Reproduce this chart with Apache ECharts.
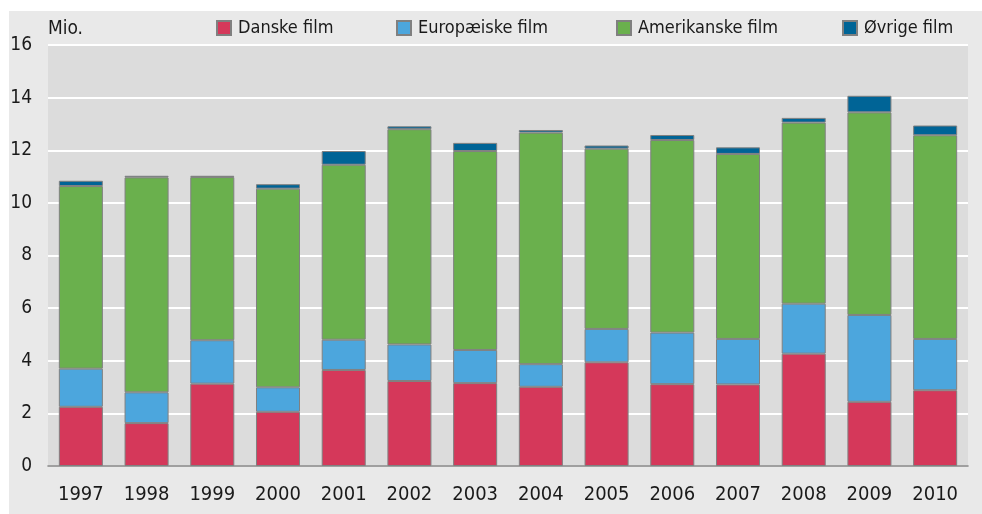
<!DOCTYPE html>
<html>
<head>
<meta charset="utf-8">
<script src="https://cdn.jsdelivr.net/npm/echarts@6/dist/echarts.min.js"></script>
<style>
  html, body { margin: 0; padding: 0; background: #fff; }
  #chart { width: 982px; height: 514px; }
</style>
</head>
<body>
<div id="chart"></div>
<script>
// data (mio.)
const years = ["1997", "1998", "1999", "2000", "2001", "2002", "2003", "2004", "2005", "2006", "2007", "2008", "2009", "2010"];
const danske = [2.25, 1.63, 3.13, 2.06, 3.65, 3.23, 3.15, 3.01, 3.94, 3.11, 3.10, 4.27, 2.44, 2.88];
const europaeiske = [1.45, 1.17, 1.65, 0.93, 1.15, 1.39, 1.26, 0.86, 1.27, 1.96, 1.73, 1.90, 3.30, 1.95];
const amerikanske = [6.94, 8.17, 6.20, 7.55, 6.65, 8.18, 7.56, 8.80, 6.85, 7.32, 7.03, 6.88, 7.70, 7.74];
const oevrige = [0.20, 0.06, 0.05, 0.17, 0.52, 0.11, 0.31, 0.10, 0.12, 0.19, 0.25, 0.18, 0.63, 0.37];
const yTicks = [0, 2, 4, 6, 8, 10, 12, 14, 16];

const font = '"Liberation Sans Narrow", "DejaVu Sans Condensed", "Noto Sans", sans-serif';
const chart = echarts.init(document.getElementById("chart"));

function serie(name, data, color) {
  return {
    name: name,
    type: "bar",
    stack: "total",
    data: data,
    barCategoryGap: "33%",
    itemStyle: { color: color, borderColor: "#808080", borderWidth: 1 },
  };
}

function legendAt(name, left) {
  return {
    data: [name],
    left: left,
    top: 19,
    padding: 0,
    itemWidth: 14,
    itemHeight: 14,
    itemGap: 6,
    icon: "rect",
    textStyle: { fontFamily: font, fontSize: 18, color: "#1a1a1a", padding: [0, 0, 0, 2] },
  };
}

const option = {
  animation: false,
  backgroundColor: "#fff",
  graphic: [
    {
      type: "rect",
      z: -10,
      shape: { x: 9, y: 11, width: 973, height: 503 },
      style: { fill: "#e9e9e9" },
    },
    {
      type: "text",
      left: 48,
      top: 20,
      style: { text: "Mio.", font: "19px " + font, fill: "#1a1a1a" },
    },
  ],
  legend: [
    legendAt("Danske film", 216),
    legendAt("Europæiske film", 396),
    legendAt("Amerikanske film", 616),
    legendAt("Øvrige film", 842),
  ],
  grid: {
    left: 48,
    right: 14,
    top: 45,
    bottom: 48,
    show: true,
    backgroundColor: "#dcdcdc",
    borderWidth: 0,
  },
  xAxis: {
    type: "category",
    data: years,
    axisLine: { lineStyle: { color: "#808080", width: 1.5 } },
    axisTick: { show: false },
    axisLabel: { fontFamily: font, fontSize: 20, color: "#1a1a1a", margin: 19 },
  },
  yAxis: {
    type: "value",
    min: yTicks[0],
    max: yTicks[yTicks.length - 1],
    interval: 2,
    axisLine: { show: false },
    axisTick: { show: false },
    splitLine: { lineStyle: { color: "#ffffff", width: 2 } },
    axisLabel: { fontFamily: font, fontSize: 19, color: "#1a1a1a", margin: 16, align: "right" },
  },
  series: [
    serie("Danske film", danske, "#d5385a"),
    serie("Europæiske film", europaeiske, "#4ca6dd"),
    serie("Amerikanske film", amerikanske, "#6ab04d"),
    serie("Øvrige film", oevrige, "#006496"),
  ],
};

chart.setOption(option);
</script>
</body>
</html>
